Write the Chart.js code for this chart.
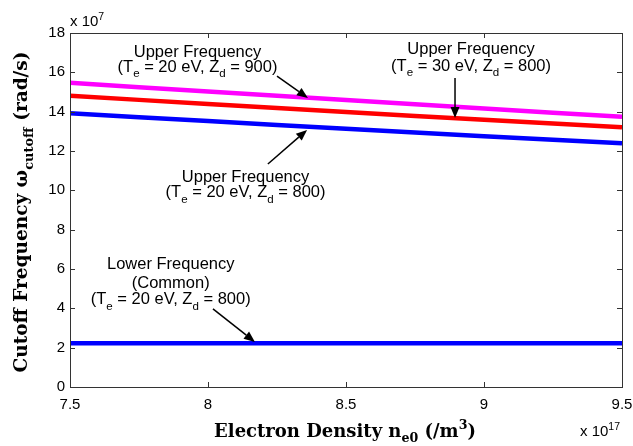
<!DOCTYPE html>
<html>
<head>
<meta charset="utf-8">
<script src="https://cdn.jsdelivr.net/npm/chart.js@4"></script>
<style>
  body { margin: 0; background: #fff; }
  canvas { display: block; }
</style>
</head>
<body>
<canvas id="cutoffChart" width="633" height="446"></canvas>
<script>
// electron density (x 10^17 /m^3)
const density = [7.5, 8, 8.5, 9, 9.5];
// cutoff frequency (x 10^7 rad/s)
const upperTe20Zd900 = [15.47, 15.02, 14.59, 14.16, 13.74];
const upperTe30Zd800 = [14.81, 14.39, 13.98, 13.59, 13.21];
const upperTe20Zd800 = [13.92, 13.52, 13.13, 12.75, 12.39];
const lowerCommon = [2.22, 2.22, 2.22, 2.22, 2.22];
const xTicks = [7.5, 8, 8.5, 9, 9.5];
const yTicks = [0, 2, 4, 6, 8, 10, 12, 14, 16, 18];

const sansFont = "'Liberation Sans', Arial, sans-serif";
const serifFont = "'DejaVu Serif', serif";

// text made of pieces: [text, mode] with mode "", "sub" or "sup"
function drawRich(ctx, parts, x, y, size, family, weight, align) {
  ctx.save();
  ctx.textBaseline = "middle";
  ctx.textAlign = "left";
  let w = 0;
  parts.forEach(([t, mode]) => {
    ctx.font = weight + " " + (mode ? size * 0.7 : size) + "px " + family;
    w += ctx.measureText(t).width;
  });
  let cx = align === "center" ? x - w / 2 : x;
  parts.forEach(([t, mode]) => {
    const s = mode ? size * 0.7 : size;
    ctx.font = weight + " " + s + "px " + family;
    let dy = 0;
    if (mode === "sub") dy = size * 0.4;
    if (mode === "sup") dy = -size * 0.35;
    ctx.fillText(t, cx, y + dy);
    cx += ctx.measureText(t).width;
  });
  ctx.restore();
}

function arrow(ctx, x1, y1, x2, y2) {
  const ang = Math.atan2(y2 - y1, x2 - x1);
  const len = 11, half = 4.5;
  const bx = x2 - len * Math.cos(ang), by = y2 - len * Math.sin(ang);
  ctx.save();
  ctx.strokeStyle = "#000";
  ctx.fillStyle = "#000";
  ctx.lineWidth = 1.5;
  ctx.beginPath();
  ctx.moveTo(x1, y1);
  ctx.lineTo(bx, by);
  ctx.stroke();
  ctx.beginPath();
  ctx.moveTo(x2, y2);
  ctx.lineTo(bx + half * Math.sin(ang), by - half * Math.cos(ang));
  ctx.lineTo(bx - half * Math.sin(ang), by + half * Math.cos(ang));
  ctx.closePath();
  ctx.fill();
  ctx.restore();
}

// annotations placed in data coordinates
const notes = [
  { x: 7.962, lines: [
      [[ "Upper Frequency", "" ]],
      [[ "(T", "" ], [ "e", "sub" ], [ " = 20 eV, Z", "" ], [ "d", "sub" ], [ " = 900)", "" ]]
    ], ys: [17.03, 16.27], arrow: [8.25, 15.81, 8.362, 14.70] },
  { x: 8.953, lines: [
      [[ "Upper Frequency", "" ]],
      [[ "(T", "" ], [ "e", "sub" ], [ " = 30 eV, Z", "" ], [ "d", "sub" ], [ " = 800)", "" ]]
    ], ys: [17.14, 16.32], arrow: [8.895, 15.71, 8.895, 13.68] },
  { x: 8.136, lines: [
      [[ "Upper Frequency", "" ]],
      [[ "(T", "" ], [ "e", "sub" ], [ " = 20 eV, Z", "" ], [ "d", "sub" ], [ " = 800)", "" ]]
    ], ys: [10.63, 9.87], arrow: [8.217, 11.34, 8.359, 13.07] },
  { x: 7.865, lines: [
      [[ "Lower Frequency", "" ]],
      [[ "(Common)", "" ]],
      [[ "(T", "" ], [ "e", "sub" ], [ " = 20 eV, Z", "" ], [ "d", "sub" ], [ " = 800)", "" ]]
    ], ys: [6.21, 5.29, 4.43], arrow: [8.018, 3.97, 8.17, 2.29] }
];

const matlabLook = {
  id: "matlabLook",
  afterDatasetsDraw(chart) {
    const ctx = chart.ctx;
    const { left, right, top, bottom } = chart.chartArea;
    const xs = chart.scales.x, ys = chart.scales.y;

    // box and inner ticks
    ctx.save();
    ctx.strokeStyle = "#333";
    ctx.lineWidth = 1;
    ctx.strokeRect(left + 0.5, top + 0.5, right - left, bottom - top);
    ctx.beginPath();
    xTicks.forEach(v => {
      const px = Math.round(xs.getPixelForValue(v)) + 0.5;
      ctx.moveTo(px, bottom); ctx.lineTo(px, bottom - 5);
      ctx.moveTo(px, top); ctx.lineTo(px, top + 5);
    });
    yTicks.forEach(v => {
      const py = Math.round(ys.getPixelForValue(v)) + 0.5;
      ctx.moveTo(left, py); ctx.lineTo(left + 5, py);
      ctx.moveTo(right, py); ctx.lineTo(right - 5, py);
    });
    ctx.stroke();
    ctx.restore();

    // annotations
    ctx.fillStyle = "#000";
    notes.forEach(n => {
      const cx = xs.getPixelForValue(n.x);
      n.lines.forEach((parts, i) => {
        drawRich(ctx, parts, cx, ys.getPixelForValue(n.ys[i]), 16.5, sansFont, "", "center");
      });
      const a = n.arrow;
      arrow(ctx, xs.getPixelForValue(a[0]), ys.getPixelForValue(a[1]),
                 xs.getPixelForValue(a[2]), ys.getPixelForValue(a[3]));
    });
  },
  afterDraw(chart) {
    const ctx = chart.ctx;
    const { left, right, top, bottom } = chart.chartArea;
    ctx.fillStyle = "#000";

    // exponent labels
    drawRich(ctx, [["x 10", ""], ["7", "sup"]], left, top - 11, 15, sansFont, "", "left");
    drawRich(ctx, [["x 10", ""], ["17", "sup"]], right - 42, bottom + 45, 15, sansFont, "", "left");

    // x axis title
    drawRich(ctx, [["Electron Density n", ""], ["e0", "sub"], [" (/m", ""], ["3", "sup"], [")", ""]],
      345, 432, 18, serifFont, "bold", "center");

    // y axis title
    ctx.save();
    ctx.translate(22, 212);
    ctx.rotate(-Math.PI / 2);
    drawRich(ctx, [["Cutoff Frequency ω", ""], ["cutoff", "sub"], [" (rad/s)", ""]],
      0, 0, 18.5, serifFont, "bold", "center");
    ctx.restore();
  }
};

const ctx = document.getElementById("cutoffChart").getContext("2d");

const lineSet = (data, color) => ({
  data: data.map((v, i) => ({ x: density[i], y: v })),
  borderColor: color,
  backgroundColor: color,
  borderWidth: 4.5,
  pointRadius: 0,
  tension: 0.3,
  fill: false
});

new Chart(ctx, {
  type: "line",
  data: {
    datasets: [
      lineSet(upperTe20Zd900, "#ff00ff"),
      lineSet(upperTe30Zd800, "#ff0000"),
      lineSet(upperTe20Zd800, "#0000ff"),
      lineSet(lowerCommon, "#0000ff")
    ]
  },
  options: {
    responsive: false,
    animation: false,
    layout: { padding: { top: 33, right: 0, left: 0, bottom: 0 } },
    plugins: { legend: { display: false }, tooltip: { enabled: false } },
    scales: {
      x: {
        type: "linear",
        min: 7.5,
        max: 9.5,
        afterBuildTicks: (scale) => { scale.ticks = xTicks.map(v => ({ value: v })); },
        afterFit: (scale) => {
          scale.height = 59;
          scale.paddingLeft = 0;
          scale.paddingRight = 11;
        },
        grid: { display: false, drawTicks: false },
        border: { display: false },
        ticks: {
          padding: 9,
          color: "#000",
          maxRotation: 0,
          font: { family: sansFont, size: 15 },
          callback: (v) => String(v)
        }
      },
      y: {
        min: 0,
        max: 18,
        afterBuildTicks: (scale) => { scale.ticks = yTicks.map(v => ({ value: v })); },
        afterFit: (scale) => { scale.width = 70; },
        grid: { display: false, drawTicks: false },
        border: { display: false },
        ticks: {
          padding: 5,
          color: "#000",
          font: { family: sansFont, size: 15 }
        }
      }
    }
  },
  plugins: [matlabLook]
});
</script>
</body>
</html>
